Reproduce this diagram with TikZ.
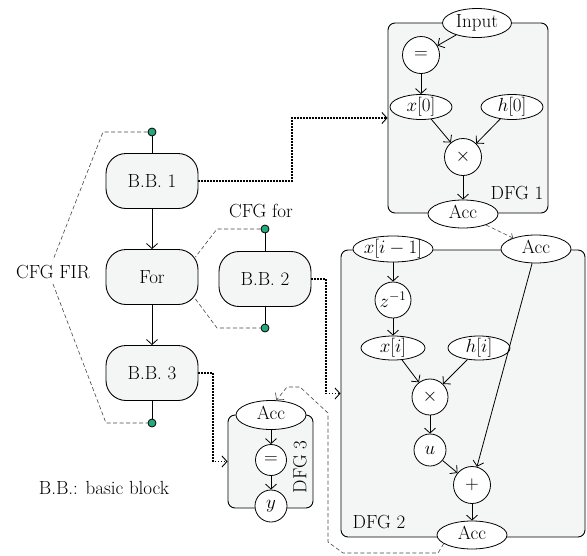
\RequirePackage{fix-cm}
\documentclass[tikz,border=0pt]{standalone}
\usepackage{fontspec}
\usetikzlibrary{arrows.meta,shapes.geometric,calc}
\definecolor{boxfill}{RGB}{244,246,245}
\definecolor{dotgreen}{RGB}{38,168,125}
\definecolor{dashgray}{RGB}{70,70,70}
\newcommand{\zbox}[1]{\makebox[0pt]{#1}}
\begin{document}
\begin{tikzpicture}[x=1pt,y=-1pt,
  every node/.style={font=\fontsize{19}{22}\selectfont},
  bbox/.style={draw, fill=boxfill, rounded corners=20pt, minimum width=92pt, minimum height=55pt, line width=0.9pt},
  dfg/.style={draw, fill=boxfill, rounded corners=7pt, line width=0.9pt, inner sep=0pt},
  el/.style={draw, ellipse, fill=white, inner sep=0pt, line width=0.8pt, text height=12pt, text depth=4pt},
  cir/.style={draw, circle, fill=white, inner sep=0pt, line width=0.8pt},
  arr/.style={-{Straight Barb[length=5pt,width=11pt]}, line width=0.8pt},
  dsh/.style={draw=dashgray, line width=0.6pt, dash pattern=on 4pt off 2.5pt},
  dotarr/.style={line width=1.5pt, dash pattern=on 1.5pt off 1.5pt, -{Straight Barb[length=5pt,width=11pt,line width=0.9pt]}},
  gdot/.style={circle, draw, fill=dotgreen, minimum size=8pt, inner sep=0pt, line width=0.8pt}]
\useasboundingbox (0,0) rectangle (587,555);

% DFG boxes
\node[dfg, minimum width=160pt, minimum height=190pt] (dfgA) at (468,118) {};
\node[dfg, minimum width=244pt, minimum height=287pt] (dfgB) at (463,393.5) {};
\node[dfg, minimum width=85pt, minimum height=93pt] (dfgC) at (270.5,461.5) {};

% left CFG
\node[bbox] (bb1) at (152,181) {B.B. 1};
\node[bbox] (for) at (152,277) {For};
\node[bbox] (bb3) at (152,373) {B.B. 3};
\node[gdot] (d1) at (152,132) {};
\node[gdot] (d2) at (152,423) {};
\draw[line width=0.8pt] (d1) -- (bb1);
\draw[line width=0.8pt] (bb3) -- (d2);
\draw[arr] (bb1) -- (for);
\draw[arr] (for) -- (bb3);
\node[inner sep=5pt] (fir) at (53,272) {CFG FIR};
\draw[dsh] (d1) -- (103,132) -- (fir.north);
\draw[dsh] (fir.south) -- (106,423) -- (d2);

% CFG for
\node[bbox] (bb2) at (265,279) {B.B. 2};
\node[gdot] (d3) at (265,229) {};
\node[gdot] (d4) at (265,328) {};
\draw[line width=0.8pt] (d3) -- (bb2);
\draw[line width=0.8pt] (bb2) -- (d4);
\node (cfgfor) at (261,211) {CFG for};
\draw[dsh] (d3) -- (217,229) -- ($(for.east)+(-3,-20)$);
\draw[dsh] ($(for.east)+(-3,22)$) -- (217,328) -- (d4);

\node (note) at (104,488) {B.B.: basic block};

% DFG 1
\node[el, minimum width=69pt, minimum height=29pt] (inp) at (477,23) {\zbox{Input}};
\node[cir, minimum size=37pt] (eqA) at (421,55) {$=$};
\node[el, minimum width=62pt, minimum height=25pt] (x0) at (421,107) {\zbox{$x[0]$}};
\node[el, minimum width=62pt, minimum height=25pt] (h0) at (512,107) {\zbox{$h[0]$}};
\node[cir, minimum size=37pt] (mulA) at (463,157) {$\times$};
\node[el, minimum width=70pt, minimum height=28pt] (accA) at (463,214) {\zbox{Acc}};
\node (lblA) at (517,193) {DFG 1};
\draw[arr] (inp) -- (eqA);
\draw[arr] (eqA) -- (x0);
\draw[arr] (x0) -- (mulA);
\draw[arr] (h0) -- (mulA);
\draw[arr] (mulA) -- (accA);

% DFG 2
\node[el, minimum width=80pt, minimum height=26pt] (xim1) at (393,249) {\zbox{$x[i-1]$}};
\node[el, minimum width=70pt, minimum height=28pt] (accT) at (536,249) {\zbox{Acc}};
\node[cir, minimum size=36pt] (zinv) at (393,300) {$z^{-1}$};
\node[el, minimum width=64pt, minimum height=24pt] (xi) at (393,348) {\zbox{$x[i]$}};
\node[el, minimum width=62pt, minimum height=24pt] (hi) at (479,348) {\zbox{$h[i]$}};
\node[cir, minimum size=36pt] (mulB) at (430,397) {$\times$};
\node[cir, minimum size=32pt] (uu) at (430,450) {$u$};
\node[cir, minimum size=37pt] (plus) at (472,485) {$+$};
\node[el, minimum width=70pt, minimum height=28pt] (accB) at (472,535) {\zbox{Acc}};
\node (lblB) at (379,522) {DFG 2};
\draw[arr] (xim1) -- (zinv);
\draw[arr] (zinv) -- (xi);
\draw[arr] (xi) -- (mulB);
\draw[arr] (hi) -- (mulB);
\draw[arr] (mulB) -- (uu);
\draw[arr] (uu) -- (plus);
\draw[arr] (accT) -- (plus);
\draw[arr] (plus) -- (accB);

% DFG 3
\node[el, minimum width=70pt, minimum height=29pt] (accC) at (271,415) {\zbox{Acc}};
\node[cir, minimum size=31pt] (eqC) at (271,460) {$=$};
\node[cir, minimum size=32pt] (yv) at (271,506) {$y$};
\node[rotate=90] (lblC) at (300,467) {DFG 3};
\draw[arr] (accC) -- (eqC);
\draw[arr] (eqC) -- (yv);

% dashed data links
\draw[dsh, -{Straight Barb[length=3pt,width=7pt]}] (accA) -- (accT);
\draw[dsh, -{Straight Barb[length=5pt,width=11pt]}] (accB.197) -- (438,553) -- (343,553) -- (328,542) -- (328,413) -- (300,387) -- (287,387) -- (accC.70);

% dotted mapping arrows
\draw[dotarr] (bb1.east) -- (292,181) |- (dfgA.west);
\draw[dotarr] (bb2.east) -- (326,279) |- (dfgB.west);
\draw[dotarr] (bb3.east) -- (213,373) |- (dfgC.west);
\end{tikzpicture}
\end{document}
